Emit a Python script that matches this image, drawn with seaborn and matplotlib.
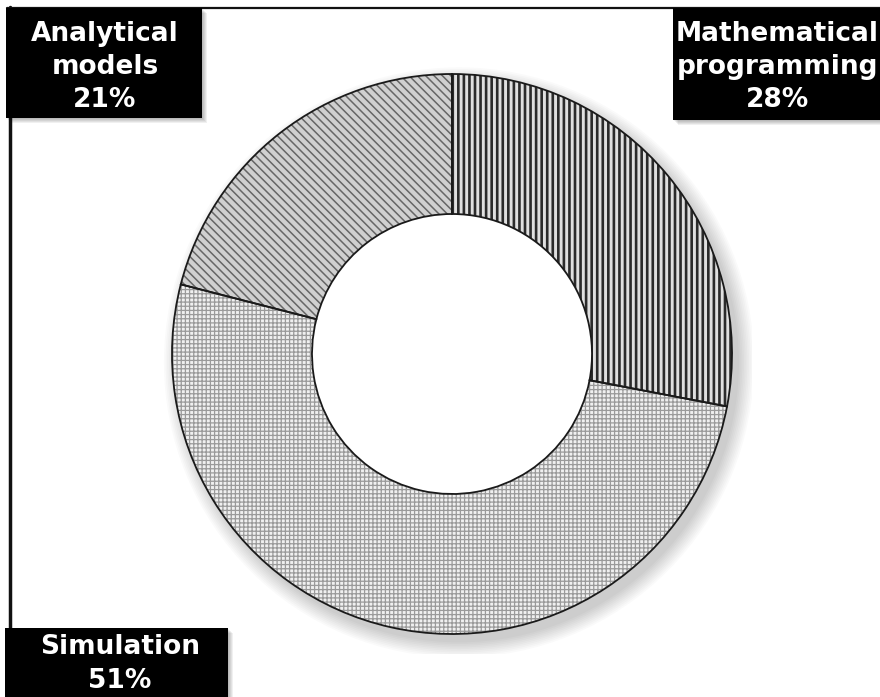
import matplotlib
matplotlib.use("Agg")
import matplotlib.pyplot as plt
import seaborn as sns
from matplotlib.patches import Rectangle, Wedge
from matplotlib.lines import Line2D

# ---- data ----
categories = ["Mathematical\nprogramming", "Simulation", "Analytical\nmodels"]
shares = [28, 51, 21]
hatches = ["|||", "++++", "\\\\\\\\"]
hatch_colors = ["#2b2b2b", "#9a9a9a", "#666666"]
face_colors = ["#e0e0e0", "#f0f0f0", "#d0d0d0"]

sns.set_theme(style="white")
plt.rcParams["font.family"] = ["DejaVu Sans"]
plt.rcParams["hatch.linewidth"] = 1.0

W, H = 880, 697
fig = plt.figure(figsize=(W / 100, H / 100), dpi=100)
fig.patch.set_facecolor("white")

def fx(x):
    return x / W

def fy(y):
    return 1 - y / H

cx, cy, R = 452, 354, 280
half = 300
ax = fig.add_axes([fx(cx - half), fy(cy + half), 2 * half / W, 2 * half / H])

# soft shadow of the ring (outer side only)
for k in range(10):
    ax.add_patch(Wedge((0.025, -0.03), 1.0 + 0.006 * k, 0, 360, width=0.45,
                       facecolor="black", edgecolor="none", alpha=0.018, zorder=0))

wedges, _ = ax.pie(shares, startangle=90, counterclock=False, radius=1,
                   wedgeprops=dict(width=0.5, linewidth=0))
hlw = [1.9, 0.9, 1.1]
for w, h, hc, fc, lw in zip(wedges, hatches, hatch_colors, face_colors, hlw):
    w.set_facecolor(fc)
    w.set_edgecolor(hc)
    w.set_hatch(h)
    w.set_linewidth(0)
    w.set_zorder(2)
    if hasattr(w, "set_hatch_linewidth"):
        w.set_hatch_linewidth(lw)

# outlines
outl, _ = ax.pie(shares, startangle=90, counterclock=False, radius=1,
                 wedgeprops=dict(width=0.5, fill=False, edgecolor="#1a1a1a", linewidth=1.3))
for w in outl:
    w.set_zorder(3)

lim = half / R
ax.set_xlim(-lim, lim)
ax.set_ylim(-lim, lim)
ax.set_aspect("auto")
ax.axis("off")

# frame lines (left and top)
fig.add_artist(Line2D([fx(10), fx(10)], [fy(7), fy(697)], color="#111111", lw=2.5,
                      transform=fig.transFigure))
fig.add_artist(Line2D([fx(7), fx(880)], [fy(8), fy(8)], color="#111111", lw=1.6,
                      transform=fig.transFigure))

# label boxes
boxes = [
    # (x0, y0, x1, y1, text center x, text center y)
    (673, 8, 900, 120, 777, 67),
    (5, 628, 228, 710, 120, 664),
    (6, 8, 202, 118, 105, 67),
]
for (x0, y0, x1, y1, tx, ty), cat, v in zip(boxes, categories, shares):
    for s in range(1, 6):
        fig.add_artist(Rectangle((fx(x0 + s), fy(y1 + s)), (x1 - x0) / W, (y1 - y0) / H,
                                 transform=fig.transFigure, facecolor="black",
                                 edgecolor="none", alpha=0.06, zorder=4))
    fig.add_artist(Rectangle((fx(x0), fy(y1)), (x1 - x0) / W, (y1 - y0) / H,
                             transform=fig.transFigure, facecolor="black",
                             edgecolor="none", zorder=5))
    fig.text(fx(tx), fy(ty), f"{cat}\n{v}%", ha="center", va="center",
             color="white", fontsize=19, fontweight="bold", linespacing=1.35,
             zorder=6)

fig.savefig("out.png", dpi=100)
